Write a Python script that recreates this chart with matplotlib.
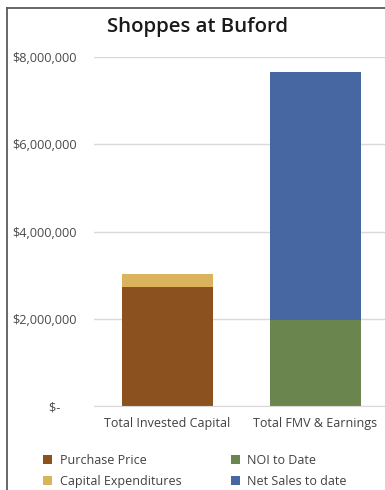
import numpy as np
import matplotlib.pyplot as plt
from matplotlib.lines import Line2D
from matplotlib.ticker import FuncFormatter

plt.rcParams['font.family'] = ['Open Sans', 'DejaVu Sans']

categories = ['Total Invested Capital', 'Total FMV & Earnings']
purchase_price = [2730000, 0]
capital_expenditures = [290000, 0]
noi_to_date = [0, 1970000]
net_sales_to_date = [0, 5680000]

c_purchase = '#8b5220'
c_capex = '#dbb35c'
c_noi = '#6a864e'
c_sales = '#4767a3'

fig = plt.figure(figsize=(3.85, 4.9), dpi=100)
# chart frame, only left and top edges are visible in the screenshot
fx = 7 / 385
fy = 1 - 8 / 490
fig.lines.append(Line2D([fx, fx], [0, fy], transform=fig.transFigure,
                        color='#5a5a5a', linewidth=1.3))
fig.lines.append(Line2D([fx, 1], [fy, fy], transform=fig.transFigure,
                        color='#5a5a5a', linewidth=1.3))

ax = fig.add_axes([93.5 / 385, 1 - 406 / 490, 296 / 385, (406 - 57) / 490])
x = np.arange(len(categories))
w = 0.615

bottom_capex = np.array(purchase_price)
bottom_sales = np.array(noi_to_date)
b1 = ax.bar(x, purchase_price, w, color=c_purchase, label='Purchase Price')
b2 = ax.bar(x, capital_expenditures, w, bottom=bottom_capex, color=c_capex,
            label='Capital Expenditures')
b3 = ax.bar(x, noi_to_date, w, color=c_noi, label='NOI to Date')
b4 = ax.bar(x, net_sales_to_date, w, bottom=bottom_sales, color=c_sales,
            label='Net Sales to date')

ax.set_xlim(-0.5, 1.5)
ax.set_ylim(0, 8000000)
ax.set_yticks([0, 2000000, 4000000, 6000000, 8000000])


def money(v, pos):
    if v == 0:
        return '$-     '
    return '${:,.0f}'.format(v)


ax.yaxis.set_major_formatter(FuncFormatter(money))
ax.set_xticks(x)
ax.set_xticklabels(categories)
ax.tick_params(axis='y', length=0, pad=12, labelsize=9.2, labelcolor='#4a4a4a')
ax.tick_params(axis='x', length=0, pad=8, labelsize=9, labelcolor='#404040')
ax.grid(axis='y', color='#d9d9d9', linewidth=1)
ax.set_axisbelow(True)
for s in ['top', 'right', 'left']:
    ax.spines[s].set_visible(False)
ax.spines['bottom'].set_color('#d9d9d9')

fig.text(198 / 385, 1 - 27 / 490, 'Shoppes at Buford', ha='center', va='center',
         fontsize=14.7, fontweight='semibold', color='#1a1a1a')

fig.legend(handles=[b1, b2, b3, b4], loc='center left',
           bbox_to_anchor=(32 / 385, 1 - 471 / 490), ncol=2, frameon=False,
           fontsize=9, handlelength=0.7, handleheight=0.7, handletextpad=0.6,
           columnspacing=4.0, labelspacing=0.65, labelcolor='#404040')

fig.savefig('out.png', dpi=100)
